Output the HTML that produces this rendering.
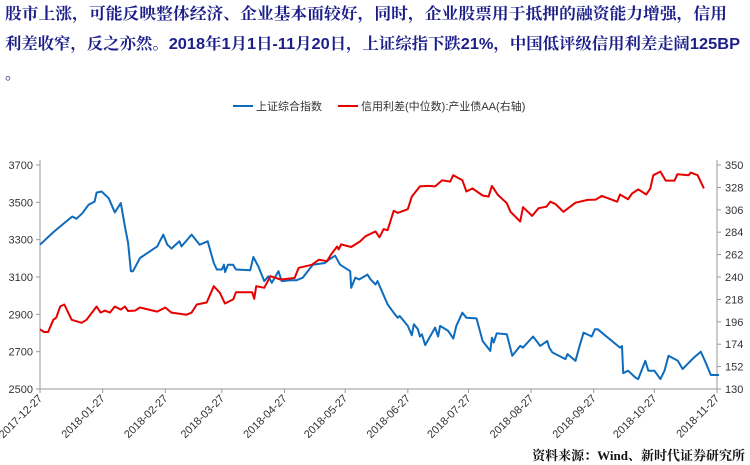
<!DOCTYPE html>
<html><head><meta charset="utf-8">
<style>
html,body{margin:0;padding:0;background:#fff;}
svg{display:block;font-family:"Liberation Sans","Noto Sans CJK SC",sans-serif;}
</style></head>
<body>
<svg id="chart" width="750" height="465" viewBox="0 0 750 465" xmlns="http://www.w3.org/2000/svg">
  <g fill="#1c1f8a" font-weight="bold" font-size="16" font-family="'Liberation Sans','Noto Serif CJK SC',serif">
    <text x="5" y="19" textLength="722" lengthAdjust="spacingAndGlyphs">股市上涨，可能反映整体经济、企业基本面较好，同时，企业股票用于抵押的融资能力增强，信用</text>
    <text x="5" y="49" textLength="735" lengthAdjust="spacingAndGlyphs">利差收窄，反之亦然。2018年1月1日-11月20日，上证综指下跌21%，中国低评级信用利差走阔125BP</text>
    <text x="5" y="79">。</text>
  </g>
  <g font-size="11" fill="#333">
    <line x1="233" y1="106" x2="253" y2="106" stroke="#0f6cbd" stroke-width="2"/>
    <text x="256" y="110">上证综合指数</text>
    <line x1="338" y1="106" x2="358" y2="106" stroke="#e60000" stroke-width="2"/>
    <text x="361" y="110">信用利差(中位数):产业债AA(右轴)</text>
  </g>
  <g id="axes"></g>
  <g id="series"></g>
  <text x="745" y="460" text-anchor="end" font-size="13" font-weight="bold" fill="#111" font-family="'Liberation Serif','Noto Serif CJK SC',serif">资料来源：Wind、新时代证券研究所</text>
</svg>
<script>
// Data (day offset from 2017-12-27)
const xTickLabels = ["2017-12-27","2018-01-27","2018-02-27","2018-03-27","2018-04-27","2018-05-27","2018-06-27","2018-07-27","2018-08-27","2018-09-27","2018-10-27","2018-11-27"];
const xTickDays = [0,31,62,90,121,151,182,212,243,274,304,335];
const leftTicks = [2500,2700,2900,3100,3300,3500,3700];
const rightTicks = [130,152,174,196,218,240,262,284,306,328,350];
const indexDays = [0,7,13,16,18,21,24,27,28,30.5,34,37,40,42,43.6,45,46,49.5,58,61,63,64,65,69,70,75,79,83,86,87.5,90,91,91.6,93,95.5,97,104,105.6,108,111,113,114.7,118,119.6,124,127,130,135,141,143,146,148.5,153.5,154,156,158,162,163.6,166,167,172,175,177,178,182,184,185,187,188,189,190.6,195.5,197,198,202,204.5,206,209,211,216,219,222.8,223.6,224.5,226,231,233.7,237.6,239,244,247.5,251,252,253.5,260,261,265,267,269,273,274.6,276,281,287,288,288.6,291,294.5,296,299.5,301,304,307,309,311,315.6,318,322,323.6,327,329,332,336];
const indexValues = [3273,3344,3398,3424,3412,3442,3487,3504,3552,3558,3522,3446,3496,3371,3282,3131,3131,3202,3264,3327,3273,3264,3252,3291,3264,3327,3273,3291,3175,3140,3140,3166,3126,3166,3166,3140,3136,3207,3157,3078,3104,3069,3131,3078,3083,3083,3096,3166,3175,3193,3214,3166,3131,3042,3096,3087,3113,3087,3060,3078,2953,2909,2882,2891,2838,2788,2847,2820,2781,2793,2735,2829,2781,2838,2811,2770,2838,2909,2882,2878,2757,2704,2775,2749,2798,2793,2678,2731,2722,2781,2731,2757,2722,2696,2660,2687,2651,2731,2802,2781,2820,2820,2775,2722,2730,2585,2598,2562,2553,2651,2598,2598,2553,2598,2678,2651,2607,2651,2669,2700,2651,2575,2575];
const spreadDays = [0,2,4,6.6,8,10,12,15.7,20.6,23,28,30,32,34.6,37,40,42,43.6,47,49.5,58,62,65,72.6,75,77.6,82.5,86,89,91.5,95.6,97,105,106,107,111,114,119,126,128,134.5,138,142,144,147,147.8,149,154,158.4,161,166,168,170,172,175,177,182,184,188,192,195.5,199,203,204.5,209,211,214,219,222,223.6,226.6,231,232.8,237.6,239,243.5,246.7,250.6,252.5,255,259,265,271,275,278,285.6,287,291,293,296,300,302,303.5,307,309.6,314,315.4,321,322,325.4,328.5];
const spreadValues = [188.6,186,186,198,200,211,213,198,195,198,211,205,207,205,211,208,211,206.6,207,210,206,210,205,203,205,213,215,231,224.5,214,218,225,225,218.6,231,229.4,240.8,237.5,239,249,252,257,255.5,262,270,267,272,269.5,275,280,284.8,279,287,286,305,303,306.6,319,329,329.5,329,335,333.7,340,335,324,327,320,319,329.5,320.6,312.5,304,294.5,308.6,300,307.6,309,314,311.8,304,313,315.7,316,319.7,314,321,316.4,322,326,321,327,340,343.5,334.7,334.7,341,340,342.5,340,327];

const X0=40, X1=717, YT=165, YB=389;
const NS="http://www.w3.org/2000/svg";
const xScale = d => X0 + (d/335)*(X1-X0);
const yL = v => YB - (v-2500)/(3700-2500)*(YB-YT);
const yR = v => YB - (v-130)/(350-130)*(YB-YT);
function mk(tag, attrs, parent){const e=document.createElementNS(NS,tag);for(const k in attrs)e.setAttribute(k,attrs[k]);parent.appendChild(e);return e;}
const axes=document.getElementById('axes'), series=document.getElementById('series');

let el=mk('line',{x1:X0,y1:YT-5,x2:X0,y2:YB,stroke:'#999','stroke-width':1},axes);


el=mk('line',{x1:X1,y1:YT-5,x2:X1,y2:YB,stroke:'#999','stroke-width':1},axes);


el=mk('line',{x1:X0,y1:YB,x2:X1,y2:YB,stroke:'#999','stroke-width':1},axes);



leftTicks.forEach(v=>{
  const y=yL(v);
  mk('line',{x1:X0-4,y1:y,x2:X0,y2:y,stroke:'#999'},axes);
  const t=mk('text',{x:X0-7,y:y+4,'text-anchor':'end','font-size':11,fill:'#333'},axes);
  t.textContent=v;
  
  
});
rightTicks.forEach(v=>{
  const y=yR(v);
  mk('line',{x1:X1,y1:y,x2:X1+4,y2:y,stroke:'#999'},axes);
  const t=mk('text',{x:X1+8,y:y+4,'font-size':11,fill:'#333'},axes);
  t.textContent=v;
  
  
});
xTickDays.forEach((d,i)=>{
  const x=xScale(d);
  mk('line',{x1:x,y1:YB,x2:x,y2:YB+4,stroke:'#999'},axes);
  const t=mk('text',{x:x+3,y:YB+10,'text-anchor':'end','font-size':11,fill:'#333',transform:`rotate(-45 ${x+3} ${YB+10})`},axes);
  t.textContent=xTickLabels[i];
  
  
});

const p1=indexDays.map((d,i)=>`${xScale(d).toFixed(1)},${yL(indexValues[i]).toFixed(1)}`).join(' ');
const line1=mk('polyline',{points:p1,fill:'none',stroke:'#0f6cbd','stroke-width':2,'stroke-linejoin':'round'},series);


const p2=spreadDays.map((d,i)=>`${xScale(d).toFixed(1)},${yR(spreadValues[i]).toFixed(1)}`).join(' ');
const line2=mk('polyline',{points:p2,fill:'none',stroke:'#e60000','stroke-width':2,'stroke-linejoin':'round'},series);


</script>
</body></html>
